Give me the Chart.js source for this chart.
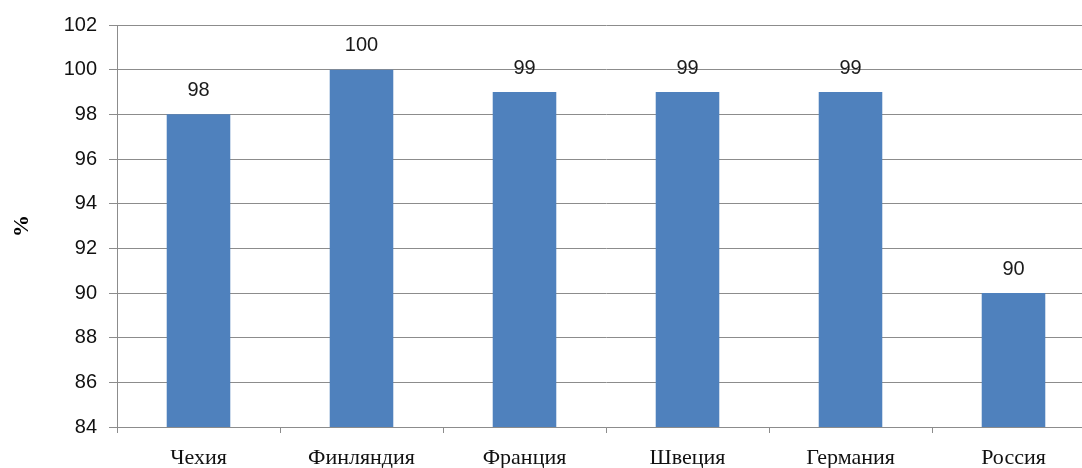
<!DOCTYPE html>
<html>
<head>
<meta charset="utf-8">
<script src="https://cdn.jsdelivr.net/npm/chart.js@4.4.0/dist/chart.umd.min.js"></script>
<style>
  html, body { margin: 0; padding: 0; background: #fff; overflow: hidden; }
  #wrap { position: relative; width: 1095px; height: 468px; }
</style>
</head>
<body>
<div id="wrap"><canvas id="grafico"></canvas></div>
<script>
const paises = ['Чехия', 'Финляндия', 'Франция', 'Швеция', 'Германия', 'Россия'];
const valores = [98, 100, 99, 99, 99, 90];
const eixoMin = 84;
const eixoMax = 102;
const passo = 2;

// rótulos de valor acima das barras
const rotulosBarras = {
    id: 'rotulosBarras',
    afterDatasetsDraw(chart) {
        const ctx = chart.ctx;
        const meta = chart.getDatasetMeta(0);
        ctx.save();
        ctx.font = '20px "Liberation Sans", Arial, sans-serif';
        ctx.fillStyle = '#1a1a1a';
        ctx.textAlign = 'center';
        ctx.textBaseline = 'middle';
        meta.data.forEach((barra, i) => {
            ctx.fillText(String(valores[i]), barra.x, barra.y - 24);
        });
        ctx.restore();
    }
};

new Chart(document.getElementById('grafico'), {
    type: 'bar',
    data: {
        labels: paises,
        datasets: [{
            data: valores,
            backgroundColor: '#4F81BD',
            barPercentage: 0.39,
            categoryPercentage: 1
        }]
    },
    options: {
        responsive: true,
        maintainAspectRatio: false,
        animation: false,
        layout: { padding: { top: 25, right: 0, bottom: 0, left: 0 } },
        plugins: { legend: { display: false }, tooltip: { enabled: false } },
        scales: {
            x: {
                offset: true,
                afterFit: s => { s.height = 41; },
                grid: { offset: true, drawOnChartArea: false, drawTicks: true, tickLength: 6, color: '#8c8c8c' },
                border: { color: '#8c8c8c' },
                ticks: {
                    padding: 12,
                    color: '#111',
                    font: { family: '"Liberation Serif", "Times New Roman", serif', size: 22 }
                }
            },
            y: {
                min: eixoMin,
                max: eixoMax,
                afterFit: s => { s.width = 117; },
                grid: { color: '#8c8c8c', tickLength: 8 },
                border: { color: '#8c8c8c' },
                ticks: {
                    stepSize: passo,
                    padding: 12,
                    color: '#111',
                    font: { family: '"Liberation Sans", Arial, sans-serif', size: 20 }
                },
                title: {
                    display: true,
                    text: '%',
                    color: '#000',
                    padding: { top: 9, bottom: 4 },
                    font: { family: '"Liberation Serif", "Times New Roman", serif', size: 22, weight: 'bold' }
                }
            }
        }
    },
    plugins: [rotulosBarras]
});
</script>
</body>
</html>
